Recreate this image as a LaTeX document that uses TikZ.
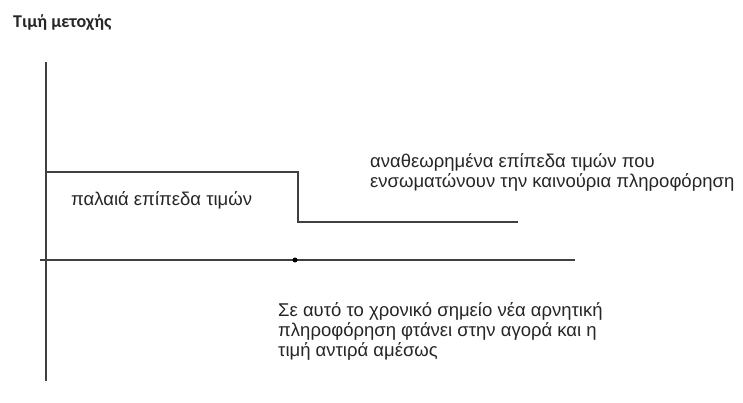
\documentclass[tikz,border=0pt]{standalone}
\usepackage{fontspec}
\setmainfont{Liberation Sans}
\newfontfamily\ylabfont{Carlito}
\begin{document}
\begin{tikzpicture}[x=1pt,y=-1pt,
  axisline/.style={draw=black!75, line width=1.6pt},
  lbl/.style={font=\fontsize{18.5}{20}\selectfont, text=black!85, inner sep=0pt, anchor=base west, align=left}]
\useasboundingbox[fill=white] (0,0) rectangle (743,403);
% axes
\coordinate (ytop) at (46,62);
\coordinate (ybot) at (46,381);
\coordinate (xl) at (40,260);
\coordinate (xr) at (575,260);
\draw[axisline] (ytop) -- (ybot);
\draw[axisline] (xl) -- (xr);
% price levels
\coordinate (p0) at (46,172);
\coordinate (p1) at (298,172);
\coordinate (p2) at (298,222);
\coordinate (p3) at (518,222);
\draw[axisline] (p0) -- (p1) -- (p2) -- (p3);
% event dot
\node[circle, fill=black, inner sep=0pt, minimum size=5pt] (ev) at (295,260) {};
% labels
\node[inner sep=0pt, anchor=base west, font=\ylabfont\bfseries\fontsize{18}{20}\selectfont, text=black!85] (ylab) at (13,28) {Τιμή μετοχής};
\node[lbl] (old) at (71,205) {παλαιά επίπεδα τιμών};
\node[lbl] (new) at (370,188) {αναθεωρημένα επίπεδα τιμών που\\ενσωματώνουν την καινούρια πληροφόρηση};
\node[lbl] (note) at (278,356) {Σε αυτό το χρονικό σημείο νέα αρνητική\\πληροφόρηση φτάνει στην αγορά και η\\τιμή αντιρά αμέσως};
\end{tikzpicture}
\end{document}
